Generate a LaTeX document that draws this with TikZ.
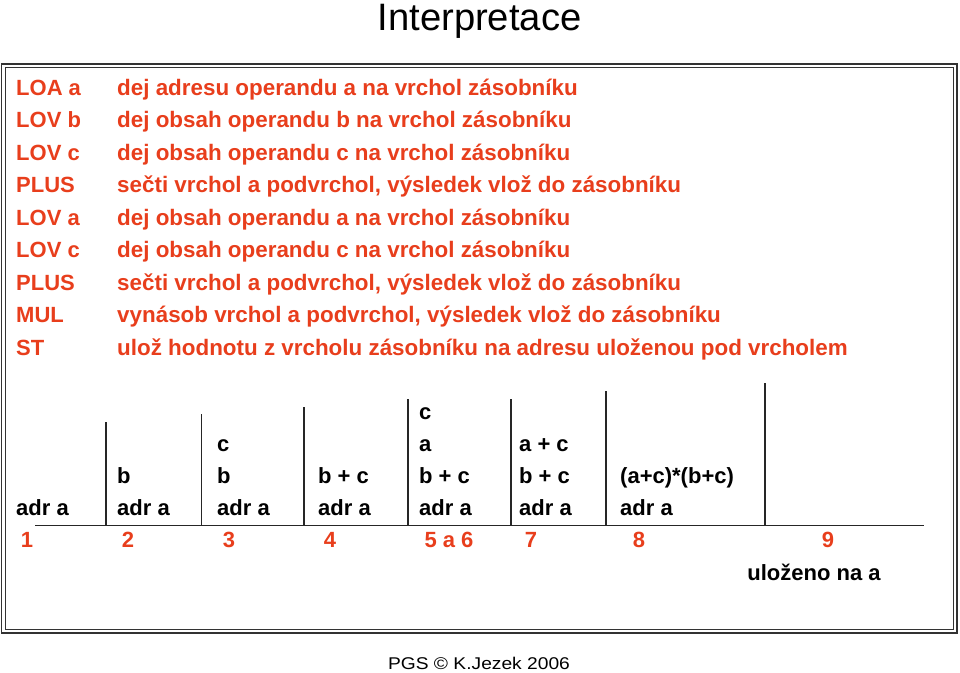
\documentclass[tikz,border=0pt]{standalone}
\usepackage{fontspec}
\setmainfont{Liberation Sans}
\definecolor{txtred}{RGB}{232,62,28}
\begin{document}
\begin{tikzpicture}[x=1pt,y=-1pt,
  lbl/.style={anchor=base west,inner sep=0pt,text=txtred,font=\fontsize{22}{26}\selectfont\bfseries},
  dscstyle/.style={anchor=base west,inner sep=0pt,text=txtred,font=\fontsize{22.4}{26}\selectfont\bfseries},
  stk/.style={anchor=base west,inner sep=0pt,text=black,font=\fontsize{22}{26}\selectfont\bfseries},
  num/.style={anchor=base,inner sep=0pt,text=txtred,font=\fontsize{22}{26}\selectfont\bfseries},
  rule/.style={line width=1.1pt,draw=black!85}]
\useasboundingbox (0,0) rectangle (960,672);
% title
\node[anchor=base,inner sep=0pt,font=\fontsize{38.2}{44}\selectfont] (title) at (479.5,30) {Interpretace};
% frame
\draw[line width=1.6pt,draw=black!80] (1.5,64) rectangle (957,633);
\draw[line width=1pt,draw=black!80] (5,67.5) rectangle (953.5,629.5);
% instruction list
\foreach \i/\a/\b in {
 0/LOA a/dej adresu operandu a na vrchol zásobníku,
 1/LOV b/dej obsah operandu b na vrchol zásobníku,
 2/LOV c/dej obsah operandu c na vrchol zásobníku,
 3/PLUS/{sečti vrchol a podvrchol, výsledek vlož do zásobníku},
 4/LOV a/dej obsah operandu a na vrchol zásobníku,
 5/LOV c/dej obsah operandu c na vrchol zásobníku,
 6/PLUS/{sečti vrchol a podvrchol, výsledek vlož do zásobníku},
 7/MUL/{vynásob vrchol a podvrchol, výsledek vlož do zásobníku},
 8/ST/ulož hodnotu z vrcholu zásobníku na adresu uloženou pod vrcholem}{
  \node[lbl] (ins\i) at (16,95+32.5*\i) {\a};
  \node[dscstyle] (dsc\i) at (117,95+32.5*\i) {\b};
}
% stack diagram
\draw[rule] (35,525.7) -- (924,525.7);
\foreach \x/\t in {106/422,201.5/414,304/407,408/399,511/399,606/391,765/383}{
  \draw[rule] (\x,\t) -- (\x,525.7);
}
% column 1
\node[stk] (s1a) at (16,515.7) {adr a};
% column 2
\node[stk] (s2b) at (117,483.3) {b};
\node[stk] (s2a) at (117,515.7) {adr a};
% column 3
\node[stk] (s3c) at (217,451.5) {c};
\node[stk] (s3b) at (217,483.3) {b};
\node[stk] (s3a) at (217,515.7) {adr a};
% column 4
\node[stk] (s4bc) at (318,483.3) {b + c};
\node[stk] (s4a) at (318,515.7) {adr a};
% column 5
\node[stk] (s5c) at (419,419) {c};
\node[stk] (s5x) at (419,451.5) {a};
\node[stk] (s5bc) at (419,483.3) {b + c};
\node[stk] (s5a) at (419,515.7) {adr a};
% column 6
\node[stk] (s6ac) at (519,451.5) {a + c};
\node[stk] (s6bc) at (519,483.3) {b + c};
\node[stk] (s6a) at (519,515.7) {adr a};
% column 7
\node[stk] (s7p) at (620,483.3) {(a+c)*(b+c)};
\node[stk] (s7a) at (620,515.7) {adr a};
% step numbers
\node[num] (n1) at (27,547.7) {1};
\node[num] (n2) at (128,547.7) {2};
\node[num] (n3) at (229,547.7) {3};
\node[num] (n4) at (330,547.7) {4};
\node[num] (n5) at (449,547.7) {5 a 6};
\node[num] (n7) at (531,547.7) {7};
\node[num] (n8) at (639,547.7) {8};
\node[num] (n9) at (828,547.7) {9};
\node[stk,anchor=base] (ulo) at (814,580.7) {uloženo na a};
% footer
\node[anchor=base,inner sep=0pt,font=\fontsize{17}{20}\selectfont,xscale=1.13] (foot) at (479,669) {PGS © K.Jezek 2006};
\end{tikzpicture}
\end{document}
